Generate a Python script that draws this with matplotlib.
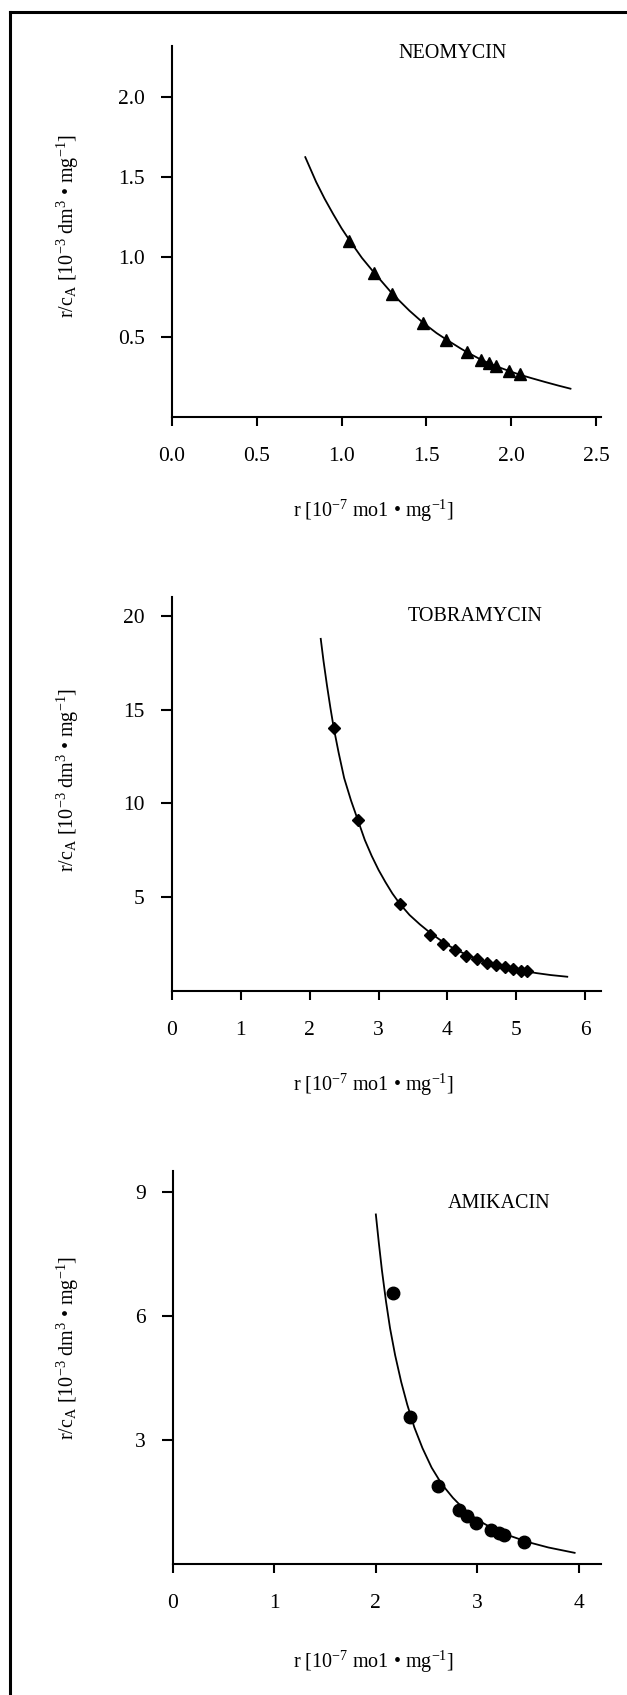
import matplotlib
matplotlib.use("Agg")
import matplotlib.pyplot as plt
from matplotlib.lines import Line2D

plt.rcParams['font.family'] = ['Liberation Serif', 'DejaVu Serif']
plt.rcParams['mathtext.fontset'] = 'custom'
plt.rcParams['mathtext.rm'] = 'Liberation Serif'
plt.rcParams['mathtext.it'] = 'Liberation Serif:italic'

# NEOMYCIN
neo_x = [1.045, 1.193, 1.298, 1.478, 1.618, 1.737, 1.825, 1.868, 1.908, 1.986, 2.05]
neo_y = [1.10, 0.90, 0.767, 0.589, 0.481, 0.408, 0.356, 0.339, 0.319, 0.289, 0.267]
neo_fit_x = [0.786, 0.85, 0.90, 0.95, 1.00, 1.05, 1.12, 1.19, 1.30, 1.40, 1.48, 1.56, 1.62,
             1.70, 1.74, 1.82, 1.90, 1.99, 2.05, 2.12, 2.20, 2.28, 2.35]
neo_fit_y = [1.625, 1.47, 1.365, 1.27, 1.18, 1.10, 0.995, 0.905, 0.77, 0.665, 0.59, 0.525, 0.483,
             0.43, 0.405, 0.36, 0.322, 0.287, 0.265, 0.243, 0.219, 0.196, 0.177]

# TOBRAMYCIN
tob_x = [2.35, 2.70, 3.31, 3.75, 3.94, 4.11, 4.27, 4.43, 4.58, 4.71, 4.84, 4.95, 5.07, 5.16]
tob_y = [14.01, 9.11, 4.64, 2.96, 2.51, 2.19, 1.87, 1.73, 1.51, 1.39, 1.27, 1.16, 1.05, 1.09]
tob_fit_x = [2.16, 2.20, 2.25, 2.30, 2.35, 2.42, 2.50, 2.60, 2.70, 2.80, 2.90, 3.00, 3.10, 3.20,
             3.31, 3.45, 3.60, 3.75, 3.94, 4.11, 4.30, 4.50, 4.70, 4.90, 5.10, 5.30, 5.50, 5.74]
tob_fit_y = [18.77, 17.6, 16.3, 15.1, 14.0, 12.7, 11.35, 10.15, 9.1, 8.05, 7.2, 6.45, 5.8, 5.2,
             4.64, 4.05, 3.55, 3.1, 2.6, 2.22, 1.9, 1.62, 1.40, 1.22, 1.07, 0.95, 0.85, 0.76]

# AMIKACIN
ami_x = [2.17, 2.34, 2.61, 2.82, 2.90, 2.99, 3.14, 3.21, 3.26, 3.46]
ami_y = [6.56, 3.56, 1.89, 1.30, 1.15, 0.99, 0.82, 0.75, 0.70, 0.54]
ami_fit_x = [2.00, 2.03, 2.06, 2.10, 2.14, 2.19, 2.25, 2.31, 2.38, 2.46, 2.55, 2.65, 2.76, 2.88,
             3.00, 3.15, 3.30, 3.50, 3.70, 3.96]
ami_fit_y = [8.45, 7.75, 7.1, 6.35, 5.7, 5.05, 4.4, 3.85, 3.3, 2.8, 2.33, 1.93, 1.6, 1.3,
             1.07, 0.86, 0.70, 0.53, 0.40, 0.27]

W, H = 627, 1695
fig = plt.figure(figsize=(W / 100, H / 100), dpi=100)

ylab = r"r/c$_\mathrm{A}$ [10$^{-3}$ dm$^3$ • mg$^{-1}$]"
xlab = r"r [10$^{-7}$ mo1 • mg$^{-1}$]"

panels = [
    dict(box=(172, 46, 601, 417), xlim=2.53, ylim=2.32,
         xt=[0, 0.5, 1.0, 1.5, 2.0, 2.5], xtl=["0.0", "0.5", "1.0", "1.5", "2.0", "2.5"],
         yt=[0.5, 1.0, 1.5, 2.0], ytl=["0.5", "1.0", "1.5", "2.0"],
         x=neo_x, y=neo_y, fx=neo_fit_x, fy=neo_fit_y, m='^', ms=9,
         name="NEOMYCIN", npos=(0.653, 0.98), ylpos=0.515, xlbelow=94),
    dict(box=(172, 597, 601, 991), xlim=6.23, ylim=21.0,
         xt=[0, 1, 2, 3, 4, 5, 6], xtl=["0", "1", "2", "3", "4", "5", "6"],
         yt=[5, 10, 15, 20], ytl=["5", "10", "15", "20"],
         x=tob_x, y=tob_y, fx=tob_fit_x, fy=tob_fit_y, m='D', ms=6.5,
         name="TOBRAMYCIN", npos=(0.707, 0.95), ylpos=0.536, xlbelow=94),
    dict(box=(173, 1171, 601, 1564), xlim=4.22, ylim=9.5,
         xt=[0, 1, 2, 3, 4], xtl=["0", "1", "2", "3", "4"],
         yt=[3, 6, 9], ytl=["3", "6", "9"],
         x=ami_x, y=ami_y, fx=ami_fit_x, fy=ami_fit_y, m='o', ms=9,
         name="AMIKACIN", npos=(0.761, 0.918), ylpos=0.55, xlbelow=98),
]

for p in panels:
    l, t, r, b = p['box']
    ax = fig.add_axes([l / W, 1 - b / H, (r - l) / W, (b - t) / H])
    ax.plot(p['fx'], p['fy'], color='black', lw=1.3, zorder=2)
    ax.plot(p['x'], p['y'], linestyle='none', marker=p['m'], ms=p['ms'],
            color='black', zorder=3, clip_on=False)
    ax.set_xlim(0, p['xlim'])
    ax.set_ylim(0, p['ylim'])
    ax.set_xticks(p['xt'])
    ax.set_xticklabels(p['xtl'])
    ax.set_yticks(p['yt'])
    ax.set_yticklabels(p['ytl'])
    for s in ['top', 'right']:
        ax.spines[s].set_visible(False)
    for s in ['left', 'bottom']:
        ax.spines[s].set_linewidth(1.5)
    ax.tick_params(axis='x', direction='out', length=6.5, width=1.5, pad=15, labelsize=15.5)
    ax.tick_params(axis='y', direction='out', length=8, width=1.5, pad=11.5, labelsize=15.5)
    ax.text(p['npos'][0], p['npos'][1], p['name'], transform=ax.transAxes,
            ha='center', va='center', fontsize=14.5)
    ax.set_ylabel(ylab, fontsize=14.5)
    ax.yaxis.set_label_coords((68 - l) / (r - l), p['ylpos'])
    ax.yaxis.label.set_va('center')
    ax.set_xlabel(xlab, fontsize=14.5)
    ax.xaxis.set_label_coords(0.469, -p['xlbelow'] / (b - t))
    ax.xaxis.label.set_va('center')

# outer frame (top and left edges only)
fig.add_artist(Line2D([10 / W, 1], [1 - 12 / H, 1 - 12 / H], color='black', lw=2.2,
                      transform=fig.transFigure))
fig.add_artist(Line2D([10 / W, 10 / W], [0, 1 - 12 / H], color='black', lw=2.2,
                      transform=fig.transFigure))

fig.savefig("out.png", dpi=100)
